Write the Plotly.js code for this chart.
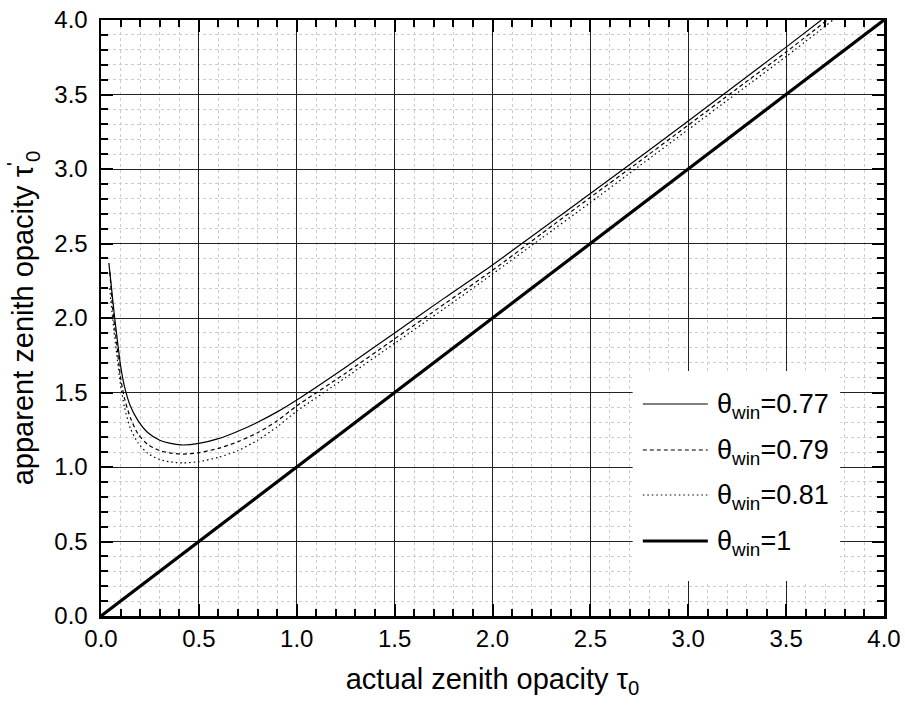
<!DOCTYPE html>
<html>
<head>
<meta charset="utf-8">
<script src="https://cdn.plot.ly/plotly-3.0.1.min.js"></script>
<style>html,body{margin:0;padding:0;background:#fff;}#chart{width:905px;height:711px;}</style>
</head>
<body>
<div id="chart"></div>
<script>
// θwin = 0.77 (solid)
const x077 = [0.04,0.05,0.06,0.07,0.08,0.10,0.12,0.15,0.19,0.24,0.30,0.35,0.41,0.50,0.60,0.70,0.80,0.90,1.00,1.25,1.50,1.75,2.00,2.25,2.50,2.75,3.00,3.25,3.50,3.68];
const y077 = [2.37,2.25,2.12,2.00,1.89,1.68,1.54,1.41,1.31,1.23,1.18,1.16,1.148,1.158,1.19,1.24,1.30,1.37,1.45,1.67,1.90,2.13,2.356,2.595,2.835,3.077,3.322,3.57,3.818,4.0];
// θwin = 0.79 (dashed)
const x079 = [0.045,0.05,0.06,0.07,0.08,0.10,0.12,0.15,0.19,0.24,0.30,0.35,0.42,0.50,0.60,0.70,0.80,0.90,1.00,1.25,1.50,1.75,2.00,2.25,2.50,2.75,3.00,3.25,3.50,3.71];
const y079 = [2.31,2.22,2.06,1.94,1.83,1.60,1.46,1.33,1.22,1.15,1.11,1.095,1.087,1.096,1.125,1.17,1.23,1.31,1.41,1.63,1.86,2.09,2.32,2.565,2.81,3.05,3.295,3.54,3.785,4.0];
// θwin = 0.81 (dotted)
const x081 = [0.045,0.05,0.06,0.07,0.08,0.10,0.12,0.15,0.19,0.24,0.30,0.35,0.42,0.50,0.60,0.70,0.80,0.90,1.00,1.25,1.50,1.75,2.00,2.25,2.50,2.75,3.00,3.25,3.50,3.74];
const y081 = [2.20,2.12,1.99,1.87,1.76,1.55,1.40,1.26,1.16,1.09,1.05,1.035,1.027,1.036,1.065,1.11,1.18,1.27,1.375,1.60,1.83,2.06,2.295,2.535,2.775,3.02,3.265,3.51,3.755,4.0];
// θwin = 1 (thick)
const x100 = [0,4];
const y100 = [0,4];

const legendLabels = ['θ<sub>win</sub>=0.77','θ<sub>win</sub>=0.79','θ<sub>win</sub>=0.81','θ<sub>win</sub>=1'];
const xTicks = [0,0.5,1,1.5,2,2.5,3,3.5,4];

const FONT = 'Liberation Sans, Arial, Helvetica, sans-serif';

const traces = [
  {x:x077,y:y077,mode:'lines',name:legendLabels[0],line:{color:'#000',width:1.2,shape:'spline',smoothing:0.6},showlegend:false},
  {x:x079,y:y079,mode:'lines',name:legendLabels[1],line:{color:'#000',width:1.2,dash:'4px,3px',shape:'spline',smoothing:0.6},showlegend:false},
  {x:x081,y:y081,mode:'lines',name:legendLabels[2],line:{color:'#000',width:1.2,dash:'1.5px,3px',shape:'spline',smoothing:0.6},showlegend:false},
  {x:x100,y:y100,mode:'lines',name:legendLabels[3],line:{color:'#000',width:3.2},showlegend:false}
];

const dashes = ['solid','4px,3px','1.5px,3px','solid'];
const widths = [1.2,1.2,1.2,3.2];
const rowY = [0.3557,0.2785,0.2030,0.1258];

const shapes = [{type:'rect',xref:'paper',yref:'paper',x0:0.679,x1:0.944,y0:0.0587,y1:0.411,fillcolor:'#fff',line:{width:0},layer:'above'}];
const annotations = [];
for (let i=0;i<4;i++){
  shapes.push({type:'line',xref:'paper',yref:'paper',x0:0.692,x1:0.775,y0:rowY[i],y1:rowY[i],line:{color:'#000',width:widths[i],dash:dashes[i]},layer:'above'});
  annotations.push({xref:'paper',yref:'paper',x:0.784,y:rowY[i],xanchor:'left',yanchor:'middle',yshift:-2,showarrow:false,text:legendLabels[i],font:{family:FONT,size:27,color:'#000'}});
}

function axis(titleText, standoff){
  return {
    range:[0,4], tickvals:xTicks, ticktext:xTicks.map(v=>v.toFixed(1)),
    ticks:'inside', ticklen:12, tickwidth:2, tickcolor:'#000',
    showline:true, linewidth:2.5, linecolor:'#000', mirror:'ticks',
    showgrid:true, gridcolor:'#222', gridwidth:1,
    zeroline:false,
    minor:{dtick:0.1, tick0:0, ticks:'inside', ticklen:7, tickwidth:2, tickcolor:'#000', showgrid:true, gridcolor:'#cccccc', gridwidth:1, griddash:'dot'},
    tickfont:{family:FONT,size:24,color:'#000'},
    title:{text:titleText, font:{family:FONT,size:29,color:'#000'}, standoff:standoff},
    fixedrange:true
  };
}

const layout = {
  width:905, height:711,
  margin:{l:101,r:21,t:20,b:95},
  paper_bgcolor:'#fff', plot_bgcolor:'#fff',
  xaxis:Object.assign(axis('actual zenith opacity τ<sub>0</sub>', 18),{ticklabelstandoff:0}),
  yaxis:Object.assign(axis('apparent zenith opacity τ<sup>\'</sup><sub>0</sub>', 12),{ticklabelstandoff:6}),
  shapes:shapes, annotations:annotations,
  showlegend:false
};

Plotly.newPlot('chart',traces,layout,{displayModeBar:false,staticPlot:true});
</script>
</body>
</html>
